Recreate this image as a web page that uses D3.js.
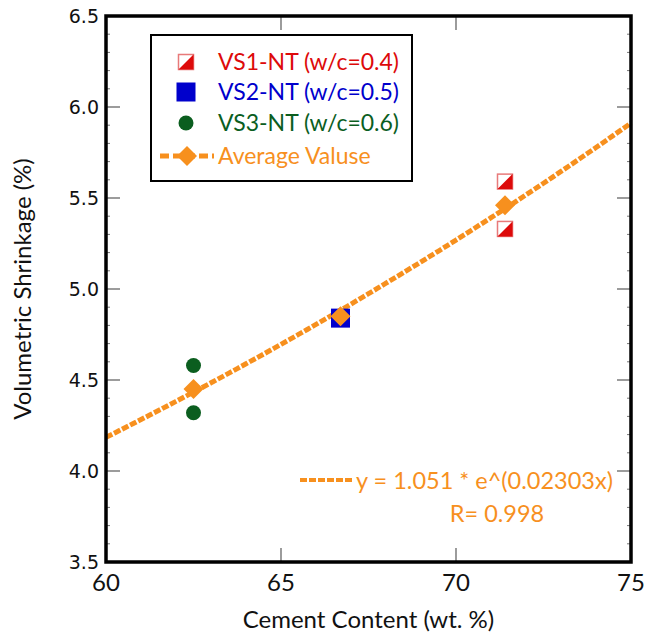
<!DOCTYPE html>
<html>
<head>
<meta charset="utf-8">
<script src="https://cdn.jsdelivr.net/npm/d3@7"></script>
<style>
  body { margin: 0; background: #fff; }
  svg { display: block; }
</style>
</head>
<body>
<svg id="chart" width="647" height="636"></svg>
<script>
// data
var vs1X = [71.4, 71.4], vs1Y = [5.59, 5.33];
var vs2X = [66.7], vs2Y = [4.84];
var vs3X = [62.5, 62.5], vs3Y = [4.58, 4.32];
var avgX = [62.5, 66.7, 71.4], avgY = [4.45, 4.85, 5.46];
// fitted curve y = a * e^(b x), as printed on the chart
var fitA = 1.051, fitB = 0.02303;
var xTicks = [60, 65, 70, 75];
var yTicks = [3.5, 4.0, 4.5, 5.0, 5.5, 6.0, 6.5];
var legendNames = ["VS1-NT (w/c=0.4)", "VS2-NT (w/c=0.5)", "VS3-NT (w/c=0.6)", "Average Valuse"];

var RED = "#dd0a0a", BLUE = "#0000cc", GREEN = "#0b5e1f", ORANGE = "#f7901e";
var calibri = "Lato, 'Open Sans', sans-serif";

var margin = {top: 16, right: 16, bottom: 74, left: 106};
var W = 647, H = 636;
var svg = d3.select("#chart");

var x = d3.scaleLinear().domain([60, 75]).range([margin.left, W - margin.right]);
var y = d3.scaleLinear().domain([3.5, 6.5]).range([H - margin.bottom, margin.top]);

var g = svg.append("g");

// minor y ticks (both sides)
var minor = d3.range(3.6, 6.45, 0.1).filter(function(v){ return Math.abs(v*2 - Math.round(v*2)) > 0.01; });
minor.forEach(function(v){
	g.append("line").attr("x1", x(60)).attr("x2", x(60) + 4).attr("y1", y(v)).attr("y2", y(v))
		.attr("stroke", "#777").attr("stroke-width", 1);
	g.append("line").attr("x1", x(75)).attr("x2", x(75) - 4).attr("y1", y(v)).attr("y2", y(v))
		.attr("stroke", "#777").attr("stroke-width", 1);
});

// major ticks, inward, on all four sides
yTicks.forEach(function(v){
	g.append("line").attr("x1", x(60)).attr("x2", x(60) + 14).attr("y1", y(v)).attr("y2", y(v))
		.attr("stroke", "#666").attr("stroke-width", 1.3);
	g.append("line").attr("x1", x(75)).attr("x2", x(75) - 14).attr("y1", y(v)).attr("y2", y(v))
		.attr("stroke", "#666").attr("stroke-width", 1.3);
});
xTicks.forEach(function(v){
	g.append("line").attr("x1", x(v)).attr("x2", x(v)).attr("y1", y(3.5)).attr("y2", y(3.5) - 14)
		.attr("stroke", "#666").attr("stroke-width", 1.3);
	g.append("line").attr("x1", x(v)).attr("x2", x(v)).attr("y1", y(6.5)).attr("y2", y(6.5) + 14)
		.attr("stroke", "#666").attr("stroke-width", 1.3);
});

// tick labels
g.selectAll(".ylab").data(yTicks).enter().append("text")
	.attr("x", x(60) - 7).attr("y", function(d){ return y(d); }).attr("dy", "0.36em")
	.attr("text-anchor", "end")
	.style("font-family", "'DejaVu Sans', sans-serif").style("font-size", "19px").attr("fill", "#111")
	.text(function(d){ return d.toFixed(1); });
g.selectAll(".xlab").data(xTicks).enter().append("text")
	.attr("x", function(d){ return x(d); }).attr("y", y(3.5) + 29)
	.attr("text-anchor", "middle")
	.style("font-family", calibri).style("font-size", "24px").attr("fill", "#111")
	.text(function(d){ return d; });

// axis titles
svg.append("text").attr("x", x(67.5)).attr("y", 628).attr("text-anchor", "middle")
	.style("font-family", calibri).style("font-size", "24px").attr("fill", "#111")
	.text("Cement Content (wt. %)");
svg.append("text").attr("transform", "translate(31," + y(5) + ") rotate(-90)").attr("text-anchor", "middle")
	.style("font-family", calibri).style("font-size", "24px").attr("fill", "#111")
	.text("Volumetric Shrinkage (%)");

// fitted curve
var fitPts = d3.range(60, 75.01, 0.25).map(function(v){ return [v, fitA * Math.exp(fitB * v)]; });
var line = d3.line().x(function(d){ return x(d[0]); }).y(function(d){ return y(d[1]); });
g.append("path").attr("d", line(fitPts)).attr("fill", "none")
	.attr("stroke", ORANGE).attr("stroke-width", 5).attr("stroke-dasharray", "7,2");

// marker helpers
function halfSquare(sel, cx, cy, s){
	var h = s / 2;
	sel.append("rect").attr("x", cx - h).attr("y", cy - h).attr("width", s).attr("height", s)
		.attr("fill", "#fff").attr("stroke", "#e87a7a").attr("stroke-width", 1.5);
	sel.append("path").attr("d", "M" + (cx - h) + "," + (cy + h) + "L" + (cx + h) + "," + (cy - h) + "L" + (cx + h) + "," + (cy + h) + "Z")
		.attr("fill", RED);
}
function diamond(sel, cx, cy, r){
	sel.append("path").attr("d", "M" + cx + "," + (cy - r) + "L" + (cx + r) + "," + cy + "L" + cx + "," + (cy + r) + "L" + (cx - r) + "," + cy + "Z")
		.attr("fill", ORANGE);
}

// series
vs1X.forEach(function(v, i){ halfSquare(g, x(v), y(vs1Y[i]), 15); });
vs2X.forEach(function(v, i){
	g.append("rect").attr("x", x(v) - 9.5).attr("y", y(vs2Y[i]) - 9.5).attr("width", 19).attr("height", 19).attr("fill", BLUE);
});
vs3X.forEach(function(v, i){
	g.append("circle").attr("cx", x(v)).attr("cy", y(vs3Y[i])).attr("r", 7.5).attr("fill", GREEN);
});
avgX.forEach(function(v, i){ diamond(g, x(v), y(avgY[i]), 10); });

// frame
g.append("rect").attr("x", x(60)).attr("y", y(6.5)).attr("width", x(75) - x(60)).attr("height", y(3.5) - y(6.5))
	.attr("fill", "none").attr("stroke", "#000").attr("stroke-width", 3.5);

// legend
var lg = svg.append("g");
lg.append("rect").attr("x", 151).attr("y", 35).attr("width", 261).attr("height", 146)
	.attr("fill", "#fff").attr("stroke", "#000").attr("stroke-width", 2);
var rowY = [62, 92, 123, 156];
var rowC = [RED, BLUE, GREEN, ORANGE];
halfSquare(lg, 186, rowY[0], 15);
lg.append("rect").attr("x", 186 - 9.5).attr("y", rowY[1] - 9.5).attr("width", 19).attr("height", 19).attr("fill", BLUE);
lg.append("circle").attr("cx", 186).attr("cy", rowY[2]).attr("r", 7.5).attr("fill", GREEN);
lg.append("line").attr("x1", 160).attr("x2", 214).attr("y1", rowY[3]).attr("y2", rowY[3])
	.attr("stroke", ORANGE).attr("stroke-width", 5).attr("stroke-dasharray", "9,4");
diamond(lg, 187, rowY[3], 10);
legendNames.forEach(function(n, i){
	lg.append("text").attr("x", 218).attr("y", rowY[i]).attr("dy", "0.36em")
		.style("font-family", calibri).style("font-size", "23px").attr("fill", rowC[i]).text(n);
});

// equation annotation
svg.append("line").attr("x1", 300).attr("x2", 354).attr("y1", 480).attr("y2", 480)
	.attr("stroke", ORANGE).attr("stroke-width", 4).attr("stroke-dasharray", "7,2");
svg.append("text").attr("x", 356).attr("y", 481).attr("dy", "0.36em")
	.style("font-family", calibri).style("font-size", "23.5px").attr("fill", ORANGE)
	.text("y = " + fitA + " * e^(" + fitB + "x)");
svg.append("text").attr("x", 497).attr("y", 514).attr("dy", "0.36em").attr("text-anchor", "middle")
	.style("font-family", calibri).style("font-size", "23.5px").attr("fill", ORANGE)
	.text("R= 0.998");
</script>
</body>
</html>
